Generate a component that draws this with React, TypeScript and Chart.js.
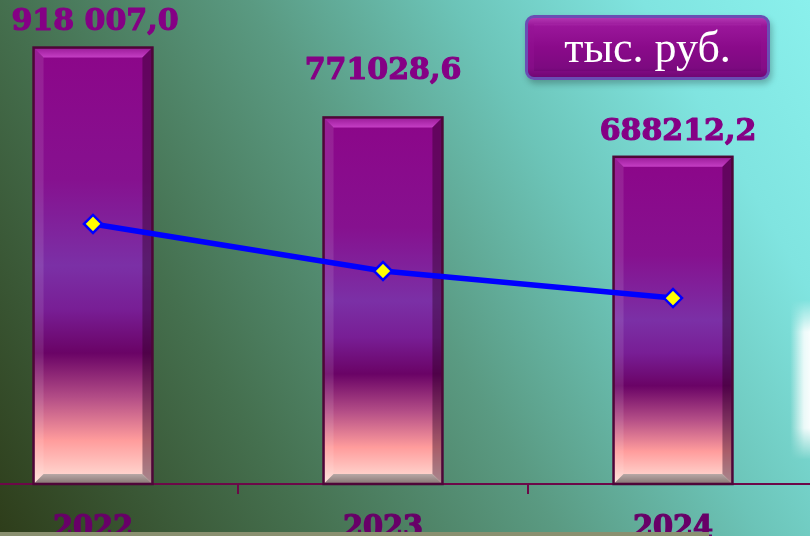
import React, { useEffect, useRef } from 'react';
import { Chart, registerables } from 'chart.js';

Chart.register(...registerables);

const categories = ['2022', '2023', '2024'];
const barValues = [918007.0, 771028.6, 688212.2];
const barLabels = ['918 007,0', '771028,6', '688212,2'];
const lineValues = [547000, 448000, 391000];
const unitLabel = 'тыс. руб.';
const yMax = 1018000;

const LABEL_STYLE = [
  { dx: 2, dy: 25 },
  { dx: 0, dy: 46 },
  { dx: 5, dy: 25 },
];

const bevelBars = {
  id: 'bevelBars',
  afterDatasetDraw(chart: any, args: any) {
    if (args.index !== 0) return;
    const ctx = chart.ctx;
    args.meta.data.forEach((el: any) => {
      const p = el.getProps(['x', 'y', 'base', 'width'], true);
      const l = p.x - p.width / 2;
      const r = p.x + p.width / 2;
      const t = p.y;
      const b = p.base;
      const bw = 10;
      ctx.save();
      const g = ctx.createLinearGradient(0, t, 0, b);
      g.addColorStop(0, '#8c0689');
      g.addColorStop(0.3, '#86118f');
      g.addColorStop(0.5, '#7b30a6');
      g.addColorStop(0.6, '#781e95');
      g.addColorStop(0.7, '#6a0366');
      g.addColorStop(0.8, '#b24c86');
      g.addColorStop(0.9, '#ff9c9c');
      g.addColorStop(1, '#ffe2da');
      ctx.fillStyle = g;
      ctx.fillRect(l, t, r - l, b - t);
      ctx.beginPath();
      ctx.moveTo(l, t); ctx.lineTo(r, t); ctx.lineTo(r - bw, t + bw); ctx.lineTo(l + bw, t + bw); ctx.closePath();
      const tg = ctx.createLinearGradient(0, t, 0, t + bw);
      tg.addColorStop(0, '#9a1a98');
      tg.addColorStop(1, '#c43ec4');
      ctx.fillStyle = tg;
      ctx.fill();
      ctx.beginPath();
      ctx.moveTo(l, t); ctx.lineTo(l + bw, t + bw); ctx.lineTo(l + bw, b - bw); ctx.lineTo(l, b); ctx.closePath();
      ctx.fillStyle = 'rgba(255,255,255,0.10)';
      ctx.fill();
      ctx.beginPath();
      ctx.moveTo(r, t); ctx.lineTo(r - bw, t + bw); ctx.lineTo(r - bw, b - bw); ctx.lineTo(r, b); ctx.closePath();
      ctx.fillStyle = 'rgba(40,0,30,0.40)';
      ctx.fill();
      ctx.beginPath();
      ctx.moveTo(l, b); ctx.lineTo(r, b); ctx.lineTo(r - bw, b - bw); ctx.lineTo(l + bw, b - bw); ctx.closePath();
      const bg = ctx.createLinearGradient(0, b - bw, 0, b);
      bg.addColorStop(0, '#b8a8a6');
      bg.addColorStop(1, '#857472');
      ctx.fillStyle = bg;
      ctx.fill();
      ctx.strokeStyle = '#4e0638';
      ctx.lineWidth = 2.5;
      ctx.strokeRect(l, t, r - l, b - t);
      ctx.restore();
    });
  },
  afterDraw(chart: any) {
    const ctx = chart.ctx;
    const meta = chart.getDatasetMeta(0);
    ctx.save();
    ctx.font = 'bold 30px "DejaVu Serif"';
    ctx.fillStyle = '#850085';
    ctx.strokeStyle = '#850085';
    ctx.lineWidth = 1.2;
    ctx.lineJoin = 'round';
    ctx.textAlign = 'center';
    ctx.textBaseline = 'middle';
    meta.data.forEach((el: any, i: number) => {
      const p = el.getProps(['x', 'y'], true);
      const s = LABEL_STYLE[i];
      ctx.strokeText(barLabels[i], p.x + s.dx, p.y - s.dy);
      ctx.fillText(barLabels[i], p.x + s.dx, p.y - s.dy);
    });
    ctx.restore();
  },
};

export default function App() {
  const ref = useRef<HTMLCanvasElement | null>(null);
  useEffect(() => {
    if (!ref.current) return;
    const chart = new Chart(ref.current, {
      type: 'bar',
      data: {
        labels: categories,
        datasets: [
          {
            type: 'bar',
            data: barValues,
            backgroundColor: 'rgba(0,0,0,0)',
            borderWidth: 0,
            barPercentage: 0.41,
            categoryPercentage: 1,
            order: 2,
          } as any,
          {
            type: 'line',
            data: lineValues,
            borderColor: '#0000ff',
            borderWidth: 5.5,
            pointStyle: 'rectRot',
            pointRadius: 9,
            pointBackgroundColor: '#ffff00',
            pointBorderColor: '#0000ff',
            pointBorderWidth: 2.5,
            order: 1,
          } as any,
        ],
      },
      options: {
        animation: false,
        responsive: false,
        devicePixelRatio: 1,
        layout: { padding: 0, autoPadding: false },
        plugins: { legend: { display: false }, tooltip: { enabled: false } },
        scales: {
          y: { display: false, min: 0, max: yMax },
          x: {
            offset: true,
            afterFit: (axis: any) => { axis.height = 66; },
            border: { display: true, color: '#6c0848', width: 2 },
            grid: {
              display: true,
              drawOnChartArea: false,
              drawTicks: true,
              tickLength: 10,
              color: '#6c0848',
              lineWidth: 2,
              offset: true,
            },
            ticks: {
              color: '#680068',
              padding: 15,
              textStrokeColor: '#680068',
              textStrokeWidth: 1.2,
              font: { family: '"DejaVu Serif Condensed", "DejaVu Serif"', weight: 'bold', size: 32 },
            },
          },
        },
      },
      plugins: [bevelBars],
    } as any);
    return () => chart.destroy();
  }, []);

  return (
    <div>
      <div
        style={{
          position: 'fixed', left: 0, top: 0, width: 810, height: 536,
          background:
            'linear-gradient(60deg, #2e3d1a 0%, #45704f 28%, #5a9a82 50%, #6cc4b8 68%, #80e4e0 85%, #8af0ec 100%)',
        }}
      />
      <div
        style={{
          position: 'fixed', left: 790, top: 300, width: 20, height: 160,
          background: 'linear-gradient(90deg, rgba(255,255,255,0) 0%, rgba(255,255,255,0.85) 70%, rgba(255,255,255,0.95) 100%)',
          WebkitMaskImage: 'linear-gradient(180deg, transparent 0%, #000 20%, #000 80%, transparent 100%)',
          maskImage: 'linear-gradient(180deg, transparent 0%, #000 20%, #000 80%, transparent 100%)',
        }}
      />
      <div style={{ position: 'fixed', left: -52, top: 0, width: 870, height: 550 }}>
        <canvas ref={ref} width={870} height={550} style={{ display: 'block' }} />
      </div>
      <div
        style={{
          position: 'fixed', left: 0, top: 532, width: 709, height: 4, background: '#8a9070',
        }}
      />
      <div
        style={{
          position: 'fixed', left: 525, top: 15, width: 245, height: 65, boxSizing: 'border-box',
          borderRadius: 9, border: '3px solid #6a4eb4',
          background: 'linear-gradient(180deg, #c048c0 0%, #9a169a 14%, #8a0a8a 50%, #7c0a80 85%, #5e0064 100%)',
          boxShadow: 'inset 0 0 0 6px rgba(150,20,150,0.35), 2px 4px 6px rgba(0,0,0,0.25)',
          display: 'flex', alignItems: 'center', justifyContent: 'center',
          color: '#ffffff', fontFamily: '"Liberation Serif", serif', fontSize: 44,
        }}
      >
        {unitLabel}
      </div>
    </div>
  );
}
